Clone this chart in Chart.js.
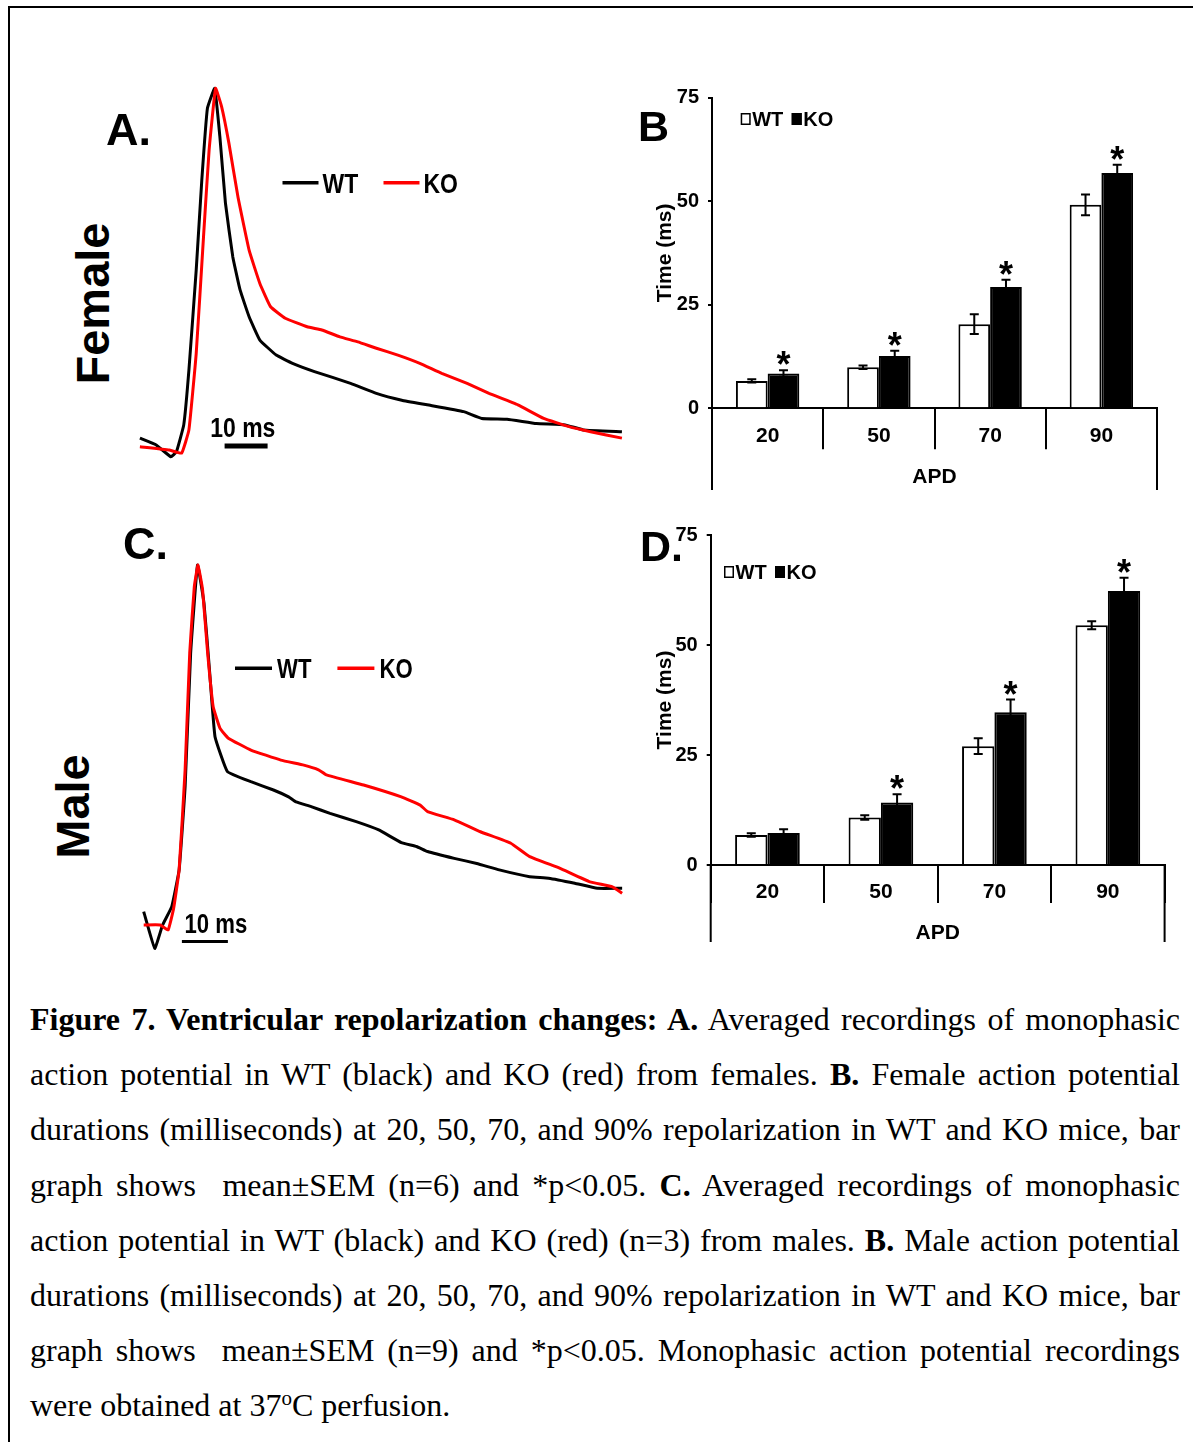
<!DOCTYPE html>
<html>
<head>
<meta charset="utf-8">
<script src="https://cdn.jsdelivr.net/npm/chart.js@4.4.1/dist/chart.umd.min.js"></script>
<style>
  body { margin: 0; background: #fff; }
  #page { position: relative; width: 1193px; height: 1442px; overflow: hidden; background: #fff; }
  .frame { position: absolute; left: 8px; top: 6px; width: 1300px; height: 1500px;
           border-top: 2px solid #000; border-left: 2px solid #000; }
  canvas { position: absolute; }
  .lbl { position: absolute; font-family: 'Liberation Sans', Arial, sans-serif; font-weight: bold;
         color: #000; white-space: nowrap; }
  .rot { text-align: center; transform: rotate(-90deg); }
  .caption { position: absolute; left: 30px; top: 992px; width: 1150px;
             font-family: 'Liberation Serif', 'Times New Roman', serif; font-size: 32px; color: #000; }
  .ln { height: 55.2px; line-height: 55.2px; text-align: justify; text-align-last: justify; }
  .ln.last { text-align: left; text-align-last: left; }
  sup { font-size: 21px; line-height: 0; vertical-align: 11px; }
</style>
</head>
<body>
<div id="page">
  <div class="frame"></div>

  <canvas id="traceF" width="500" height="400" style="left:130px;top:70px"></canvas>
  <canvas id="traceM" width="500" height="430" style="left:130px;top:540px"></canvas>
  <canvas id="apdF" width="520" height="418" style="left:640px;top:77px"></canvas>
  <canvas id="apdM" width="528" height="435" style="left:640px;top:515px"></canvas>

  <div class="lbl" style="left:106px;top:107px;font-size:45px;line-height:45px">A.</div>
  <div class="lbl" style="left:123px;top:521px;font-size:45px;line-height:45px">C.</div>
  <div class="lbl" style="left:638px;top:105px;font-size:43px;line-height:43px">B</div>
  <div class="lbl" style="left:640px;top:525px;font-size:43px;line-height:43px">D.</div>
  <div class="lbl rot" style="left:-8px;top:280px;width:200px;height:47px;font-size:47px;line-height:47px">Female</div>
  <div class="lbl rot" style="left:-28px;top:783px;width:200px;height:47px;font-size:47px;line-height:47px">Male</div>

  <div class="caption">
    <div class="ln"><b>Figure 7. Ventricular repolarization changes: A.</b> Averaged recordings of monophasic</div>
    <div class="ln">action potential in WT (black) and KO (red) from females. <b>B.</b> Female action potential</div>
    <div class="ln">durations (milliseconds) at 20, 50, 70, and 90% repolarization in WT and KO mice, bar</div>
    <div class="ln">graph shows&nbsp; mean±SEM (n=6) and *p&lt;0.05. <b>C.</b> Averaged recordings of monophasic</div>
    <div class="ln">action potential in WT (black) and KO (red) (n=3) from males. <b>B.</b> Male action potential</div>
    <div class="ln">durations (milliseconds) at 20, 50, 70, and 90% repolarization in WT and KO mice, bar</div>
    <div class="ln">graph shows&nbsp; mean±SEM (n=9) and *p&lt;0.05. Monophasic action potential recordings</div>
    <div class="ln last">were obtained at 37<sup>o</sup>C perfusion.</div>
  </div>
</div>

<script>
// averaged monophasic action potentials: time in ms from the peak, amplitude in % of peak
var femaleWtTime = [-17.7, -13.9, -10.5, -9.2, -7.5, -6.3, -4.6, -3.3, -2.0, -0.3, 0.9, 2.2, 3.9, 5.6, 7.7,
  10.2, 14.0, 17.8, 22.9, 31.3, 37.3, 43.2, 49.1, 57.6, 61.8, 67.7, 74.5, 81.2, 85.4, 94.4];
var femaleWtAmp = [2.2, 0.3, -3.0, -1.6, 5.9, 21.2, 49.2, 74.3, 94.3, 99.9, 86.4, 67.8, 52.9, 43.6, 36.1,
  29.6, 25.4, 23.1, 20.8, 17.5, 14.7, 12.8, 11.5, 9.6, 7.7, 7.5, 6.3, 5.9, 4.5, 4.0];
var femaleKoTime = [-17.7, -10.9, -8.0, -6.3, -4.6, -2.9, -1.6, -0.1, 1.3, 3.0, 5.1, 7.7, 10.2, 12.7, 16.1,
  21.2, 24.6, 28.8, 33.0, 37.3, 42.3, 47.4, 52.5, 58.4, 63.5, 70.2, 76.2, 82.1, 87.1, 94.4];
var femaleKoAmp = [-0.2, -1.1, -2.0, 4.5, 25.9, 58.5, 82.7, 99.9, 94.8, 84.6, 69.6, 54.7, 45.4, 38.9, 35.7,
  33.3, 32.4, 30.5, 29.1, 27.3, 25.4, 23.1, 20.3, 17.5, 14.7, 11.5, 7.7, 5.4, 4.0, 2.2];

var maleWtTime = [-11.8, -9.4, -7.7, -5.7, -4.1, -2.8, -1.6, -0.1, 1.3, 2.5, 3.7, 6.4, 11.5, 16.4, 19.7,
  21.3, 24.6, 28.7, 34.4, 39.3, 44.2, 47.5, 49.9, 55.7, 60.6, 65.5, 72.1, 76.2, 81.9, 86.8, 92.2];
var maleWtAmp = [3.7, -6.5, 0.0, 5.1, 15.3, 38.4, 75.5, 100, 89.4, 70.8, 52.3, 42.6, 39.8, 37.5, 35.6,
  34.2, 32.9, 31.0, 28.7, 26.4, 22.9, 21.8, 20.4, 18.5, 17.1, 15.3, 13.4, 13.0, 11.6, 10.2, 10.2];
var maleKoTime = [-11.8, -8.2, -6.5, -5.3, -4.1, -2.8, -1.8, -0.8, 0.0, 1.0, 2.1, 3.3, 4.8, 6.6, 11.5,
  18.0, 23.0, 26.2, 27.9, 36.0, 44.2, 48.3, 49.9, 55.7, 61.4, 68.0, 72.1, 78.6, 85.2, 90.1, 92.2];
var maleKoAmp = [0.0, 0.0, -1.4, 4.6, 15.3, 43.1, 75.5, 94.0, 100, 93.1, 75.5, 60.6, 54.6, 51.9, 48.6,
  45.8, 44.4, 43.1, 41.7, 38.9, 35.6, 33.3, 31.5, 29.2, 25.9, 22.7, 19.0, 15.8, 12.0, 10.6, 8.8];

// action potential durations (ms), mean and SEM
var apdLabels = ['20', '50', '70', '90'];
var timeTicks = [0, 25, 50, 75];
var femaleWt = [6.6, 9.9, 20.3, 49.1];
var femaleWtSem = [0.4, 0.4, 2.4, 2.5];
var femaleKo = [8.4, 12.6, 29.3, 56.8];
var femaleKoSem = [0.8, 1.3, 1.7, 2.0];
var femaleSig = [true, true, true, true];
var maleWt = [6.8, 10.8, 27.0, 54.5];
var maleWtSem = [0.4, 0.5, 1.8, 0.9];
var maleKo = [7.3, 14.2, 34.7, 62.3];
var maleKoSem = [0.8, 1.9, 2.9, 3.0];
var maleSig = [false, true, true, true];

var SANS = "'Liberation Sans', Arial, sans-serif";
Chart.defaults.color = '#000';

function points(t, a) {
  return t.map(function (v, i) { return { x: v, y: a[i] }; });
}

// condensed bold text, like the narrow face used in the trace panels
function narrowText(ctx, text, x, y, size, align) {
  ctx.save();
  ctx.translate(x, y);
  ctx.scale(0.82, 1);
  ctx.font = 'bold ' + size + 'px ' + SANS;
  ctx.textAlign = align;
  ctx.textBaseline = 'alphabetic';
  ctx.fillStyle = '#000';
  ctx.fillText(text, 0, 0);
  ctx.restore();
}

// legend and 10 ms scale bar for the trace panels
var traceDecor = {
  id: 'traceDecor',
  afterDatasetsDraw: function (chart, args, o) {
    var ctx = chart.ctx, ca = chart.chartArea, x = chart.scales.x, y = chart.scales.y;
    ctx.save();
    chart.data.datasets.forEach(function (ds, i) {
      var lx = ca.left + o.legendX[i], ly = ca.top + o.legendY;
      ctx.strokeStyle = ds.borderColor;
      ctx.lineWidth = 3.5;
      ctx.beginPath(); ctx.moveTo(lx, ly); ctx.lineTo(lx + o.lineLen, ly); ctx.stroke();
      narrowText(ctx, ds.label, lx + o.textGap, ly + 10, o.fontSize, 'left');
    });
    var x0 = x.getPixelForValue(o.barStart), x1 = x.getPixelForValue(o.barStart + o.barMs);
    var yb = y.getPixelForValue(o.barLevel);
    ctx.strokeStyle = '#000';
    ctx.lineWidth = o.barWidth;
    ctx.beginPath(); ctx.moveTo(x0, yb); ctx.lineTo(x1, yb); ctx.stroke();
    narrowText(ctx, o.barMs + ' ms', (x0 + x1) / 2 + o.labelDx, yb - o.labelGap, o.fontSize, 'center');
    ctx.restore();
  }
};

function traceChart(id, wtT, wtA, koT, koA, xr, yr, decor) {
  return new Chart(document.getElementById(id), {
    type: 'scatter',
    data: {
      datasets: [
        { label: 'WT', data: points(wtT, wtA), showLine: true, borderColor: '#000', borderWidth: 3,
          pointRadius: 0, tension: 0.1, borderJoinStyle: 'round', order: 1 },
        { label: 'KO', data: points(koT, koA), showLine: true, borderColor: '#ff0000', borderWidth: 3,
          pointRadius: 0, tension: 0.1, borderJoinStyle: 'round', order: 0 }
      ]
    },
    options: {
      responsive: false, animation: false, devicePixelRatio: 1,
      layout: { padding: 0 },
      plugins: { legend: { display: false }, tooltip: { enabled: false }, traceDecor: decor },
      scales: {
        x: { type: 'linear', display: false, min: xr[0], max: xr[1] },
        y: { type: 'linear', display: false, min: yr[0], max: yr[1] }
      }
    },
    plugins: [traceDecor]
  });
}

// error bars, significance stars and the square legend
var apdMarks = {
  id: 'apdMarks',
  afterDatasetsDraw: function (chart, args, o) {
    var ctx = chart.ctx, ys = chart.scales.y;
    ctx.save();
    ctx.strokeStyle = '#000';
    ctx.lineWidth = 2;
    chart.data.datasets.forEach(function (ds, di) {
      chart.getDatasetMeta(di).data.forEach(function (bar, i) {
        var top = ys.getPixelForValue(ds.data[i] + ds.sem[i]);
        var bot = ys.getPixelForValue(ds.data[i] - ds.sem[i]);
        ctx.beginPath();
        ctx.moveTo(bar.x, top); ctx.lineTo(bar.x, bot);
        ctx.moveTo(bar.x - 4.5, top); ctx.lineTo(bar.x + 4.5, top);
        ctx.moveTo(bar.x - 4.5, bot); ctx.lineTo(bar.x + 4.5, bot);
        ctx.stroke();
        if (ds.sig && ds.sig[i]) {
          ctx.fillStyle = '#000';
          ctx.font = 'bold 36px ' + SANS;
          ctx.textAlign = 'center';
          ctx.textBaseline = 'alphabetic';
          ctx.fillText('*', bar.x, top + 7);
        }
      });
    });
    // legend
    var ca = chart.chartArea, lx = ca.left + o.dx, ly = ca.top + o.dy;
    ctx.font = 'bold 20px ' + SANS;
    ctx.textAlign = 'left';
    ctx.textBaseline = 'middle';
    ctx.lineWidth = 1.5;
    chart.data.datasets.forEach(function (ds) {
      ctx.fillStyle = ds.backgroundColor;
      ctx.fillRect(lx, ly - 6, 10, 12);
      ctx.strokeRect(lx + 0.75, ly - 5.25, 8.5, 10.5);
      ctx.fillStyle = '#000';
      ctx.fillText(ds.label, lx + 11.5, ly + 1);
      lx += o.step;
    });
    ctx.restore();
  },
  afterDraw: function (chart, args, o) {
    // outer frame of the two-level category axis
    var ctx = chart.ctx, xs = chart.scales.x;
    ctx.save();
    ctx.strokeStyle = '#000';
    ctx.lineWidth = 2;
    ctx.beginPath();
    [xs.left, xs.right].forEach(function (px) {
      ctx.moveTo(px, xs.top); ctx.lineTo(px, xs.bottom - o.frameGap);
    });
    ctx.stroke();
    ctx.restore();
  }
};

function apdChart(id, wt, wtSem, ko, koSem, sig, g) {
  return new Chart(document.getElementById(id), {
    type: 'bar',
    data: {
      labels: apdLabels,
      datasets: [
        { label: 'WT', data: wt, sem: wtSem, backgroundColor: '#fff', borderColor: '#000', borderWidth: 2,
          barPercentage: 1, categoryPercentage: 0.57 },
        { label: 'KO', data: ko, sem: koSem, sig: sig, backgroundColor: '#000', borderColor: '#000', borderWidth: 2,
          barPercentage: 1, categoryPercentage: 0.57 }
      ]
    },
    options: {
      responsive: false, animation: false, devicePixelRatio: 1,
      layout: { padding: { top: g.padTop, right: g.padRight, left: 0, bottom: 0 } },
      plugins: { legend: { display: false }, tooltip: { enabled: false },
                 apdMarks: { dx: g.legDx, dy: g.legDy, step: 51, frameGap: g.frameGap } },
      scales: {
        x: {
          grid: { offset: true, drawOnChartArea: false, drawTicks: true, tickLength: g.sepLen,
                  color: '#000', lineWidth: 2 },
          border: { color: '#000', width: 2 },
          ticks: { color: '#000', font: { family: SANS, size: 21, weight: 'bold', lineHeight: 1 },
                   padding: g.labPad, maxRotation: 0, autoSkip: false },
          title: { display: true, text: 'APD', color: '#000',
                   font: { family: SANS, size: 21, weight: 'bold', lineHeight: 1 },
                   padding: { top: 0, bottom: g.apdPad } },
          afterFit: function (s) { s.height = g.xHeight; }
        },
        y: {
          min: 0, max: 75,
          afterBuildTicks: function (s) { s.ticks = timeTicks.map(function (v) { return { value: v }; }); },
          grid: { drawOnChartArea: false, drawTicks: true, tickLength: 4, color: '#000', lineWidth: 2 },
          border: { color: '#000', width: 2 },
          ticks: { color: '#000', font: { family: SANS, size: 20, weight: 'bold', lineHeight: 1 }, padding: 9 },
          title: { display: true, text: 'Time (ms)', color: '#000',
                   font: { family: SANS, size: 21, weight: 'bold', lineHeight: 1 },
                   padding: { top: 14.5, bottom: 0 } },
          afterFit: function (s) { s.width = g.yWidth; }
        }
      }
    },
    plugins: [apdMarks]
  });
}

traceChart('traceF', femaleWtTime, femaleWtAmp, femaleKoTime, femaleKoAmp, [-20, 96.28], [-6.7, 105.03], {
  fontSize: 28, legendX: [152.5, 253.5], legendY: 112.7, lineLen: 36, textGap: 40,
  barStart: 2.0, barMs: 10, barLevel: 0, barWidth: 5, labelDx: -3.3, labelGap: 9
});
traceChart('traceM', maleWtTime, maleWtAmp, maleKoTime, maleKoAmp, [-14.78, 93.91], [-12.5, 106.94], {
  fontSize: 27, legendX: [105, 207.4], legendY: 128.3, lineLen: 37, textGap: 42,
  barStart: -3.5, barMs: 10, barLevel: -4.6, barWidth: 3, labelDx: 11, labelGap: 8.7
});
apdChart('apdF', femaleWt, femaleWtSem, femaleKo, femaleKoSem, femaleSig, {
  padTop: 20.5, padRight: 3, yWidth: 72, xHeight: 86.7, sepLen: 41, labPad: -23.3, apdPad: 7,
  legDx: 28.7, legDy: 21.5, frameGap: 5
});
apdChart('apdM', maleWt, maleWtSem, maleKo, maleKoSem, maleSig, {
  padTop: 20, padRight: 3.4, yWidth: 70.7, xHeight: 85, sepLen: 38, labPad: -21.3, apdPad: 6.5,
  legDx: 13.3, legDy: 37, frameGap: 8
});
</script>
</body>
</html>
